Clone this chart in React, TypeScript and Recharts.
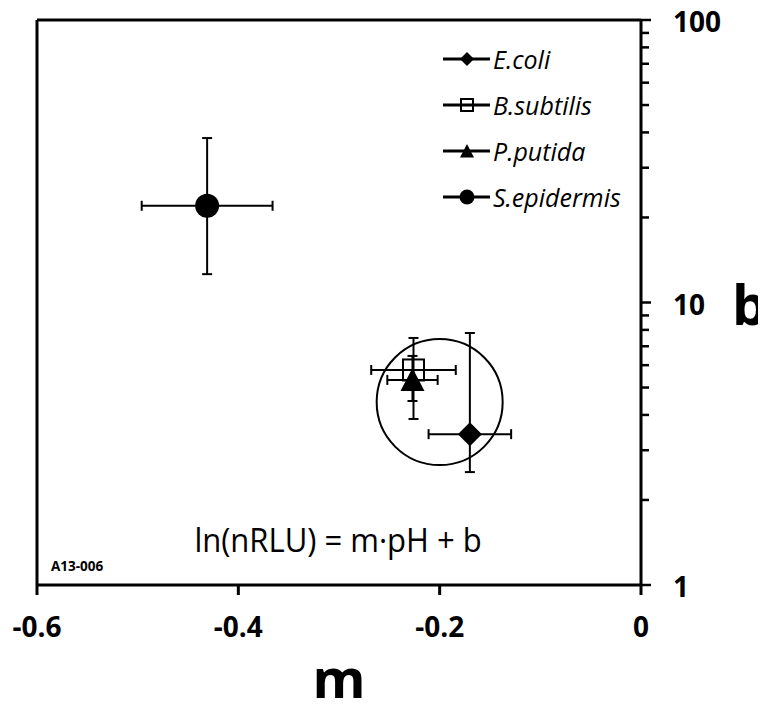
import React from 'react';
import {
  ScatterChart,
  Scatter,
  XAxis,
  YAxis,
  ErrorBar,
  ReferenceLine,
  ReferenceDot,
  Legend,
  Label,
} from 'recharts';

const species = ['E.coli', 'B.subtilis', 'P.putida', 'S.epidermis'];
const markers = ['diamond', 'square', 'triangle', 'circle'];
const mValues = [-0.17, -0.226, -0.227, -0.431];
const bValues = [3.42, 5.77, 5.32, 22];
const mErrors = [0.041, 0.042, 0.025, 0.065];
const bErrLow = [0.91, 1.9, 0.84, 9.4];
const bErrHigh = [4.38, 1.72, 1.15, 16.2];

const xTicks = [-0.6, -0.4, -0.2, 0];
const yTicks = [1, 2, 3, 4, 5, 6, 7, 8, 9, 10, 20, 30, 40, 50, 60, 70, 80, 90, 100];
const yLabels = [1, 10, 100];

// hand-drawn circle around the E.coli / B.subtilis / P.putida group
const highlightM = -0.2;
const highlightB = 4.44;

const FONT = "'Open Sans', sans-serif";

const series = species.map((name, i) => ({
  name,
  kind: markers[i],
  data: [{ m: mValues[i], b: bValues[i], mErr: mErrors[i], bErr: [bErrLow[i], bErrHigh[i]] }],
}));

function Marker({ kind, cx, cy, s }: { kind: string; cx: number; cy: number; s: number }) {
  if (kind === 'diamond') {
    return <polygon points={`${cx},${cy - s} ${cx + s},${cy} ${cx},${cy + s} ${cx - s},${cy}`} fill="#000" />;
  }
  if (kind === 'square') {
    return (
      <rect x={cx - s + 1} y={cy - s + 1} width={2 * s - 2} height={2 * s - 2} fill="none" stroke="#000" strokeWidth={2} />
    );
  }
  if (kind === 'triangle') {
    return <polygon points={`${cx},${cy - s} ${cx + s},${cy + s * 0.92} ${cx - s},${cy + s * 0.92}`} fill="#000" />;
  }
  return <circle cx={cx} cy={cy} r={s} fill="#000" />;
}

function StretchText({ x, y, sy = 1, size, weight = 'bold', anchor = 'middle', children }: any) {
  return (
    <text
      transform={`translate(${x} ${y}) scale(1 ${sy})`}
      textAnchor={anchor}
      fontSize={size}
      fontWeight={weight}
      fontFamily={FONT}
      fill="#000"
    >
      {children}
    </text>
  );
}

function XTick({ x, y, payload }: any) {
  return (
    <StretchText x={x} y={y + 42} size={28}>
      {String(payload.value)}
    </StretchText>
  );
}

function YTick({ x, y, payload }: any) {
  const major = yLabels.includes(payload.value);
  return (
    <g>
      <line x1={x} x2={x + (major ? 10 : 8)} y1={y} y2={y} stroke="#000" strokeWidth={2.5} />
      {major && (
        <StretchText x={x + 32} y={y + 12} size={28} anchor="start">
          {String(payload.value)}
        </StretchText>
      )}
    </g>
  );
}

function LegendBox() {
  return (
    <div style={{ fontFamily: FONT }}>
      {series.map((s) => (
        <div key={s.name} style={{ display: 'flex', alignItems: 'center', height: 46 }}>
          <svg width={48} height={24} style={{ marginRight: 2 }}>
            <line x1={0} x2={47} y1={12} y2={12} stroke="#000" strokeWidth={3} />
            <Marker kind={s.kind} cx={24} cy={12} s={s.kind === 'circle' ? 7.5 : 7} />
          </svg>
          <span style={{ fontStyle: 'italic', fontSize: 25, lineHeight: '24px' }}>{s.name}</span>
        </div>
      ))}
    </div>
  );
}

export default function App() {
  return (
    <div style={{ width: 758, height: 697, fontFamily: FONT }}>
      <ScatterChart width={758} height={697} margin={{ top: 12, left: 29, right: 0, bottom: 0 }}>
        <XAxis
          type="number"
          dataKey="m"
          domain={[-0.6, 0]}
          ticks={xTicks}
          interval={0}
          allowDataOverflow
          height={120}
          axisLine={{ stroke: '#000', strokeWidth: 3 }}
          tickLine={{ stroke: '#000', strokeWidth: 3 }}
          tickSize={10}
          tickMargin={0}
          tick={<XTick />}
        >
          <Label
            content={({ viewBox }: any) => (
              <StretchText x={viewBox.x + viewBox.width / 2} y={viewBox.y + 113} size={54}>
                m
              </StretchText>
            )}
          />
        </XAxis>
        <YAxis
          type="number"
          dataKey="b"
          orientation="right"
          scale="log"
          domain={[1, 100]}
          ticks={yTicks}
          interval={0}
          allowDataOverflow
          width={125}
          axisLine={{ stroke: '#000', strokeWidth: 3 }}
          tickLine={false}
          tickSize={0}
          tickMargin={0}
          tick={<YTick />}
        >
          <Label
            content={({ viewBox }: any) => (
              <StretchText x={viewBox.x + 91} y={viewBox.y + 305} size={55} anchor="start">
                b
              </StretchText>
            )}
          />
        </YAxis>
        <ReferenceLine y={100} stroke="#000" strokeWidth={3} />
        <ReferenceLine x={-0.6} stroke="#000" strokeWidth={3} />
        <ReferenceDot x={highlightM} y={highlightB} r={63} fill="none" stroke="#000" strokeWidth={2} />
        {series.map((s) => (
          <Scatter
            key={s.name}
            name={s.name}
            data={s.data}
            isAnimationActive={false}
            shape={(p: any) => <Marker kind={s.kind} cx={p.cx} cy={p.cy} s={s.kind === 'square' ? 11.5 : 12} />}
          >
            <ErrorBar dataKey="mErr" direction="x" width={5} stroke="#000" strokeWidth={2} isAnimationActive={false} />
            <ErrorBar dataKey="bErr" direction="y" width={5} stroke="#000" strokeWidth={2} isAnimationActive={false} />
          </Scatter>
        ))}
        <Legend
          layout="vertical"
          align="center"
          verticalAlign="middle"
          content={<LegendBox />}
          wrapperStyle={{ left: 435, top: 28, width: 220 }}
        />
        <StretchText x={330} y={544} size={31} sy={1.08} weight="normal">
          ln(nRLU) = m·pH + b
        </StretchText>
        <StretchText x={43} y={563} size={13.5} anchor="start">
          A13-006
        </StretchText>
      </ScatterChart>
    </div>
  );
}
